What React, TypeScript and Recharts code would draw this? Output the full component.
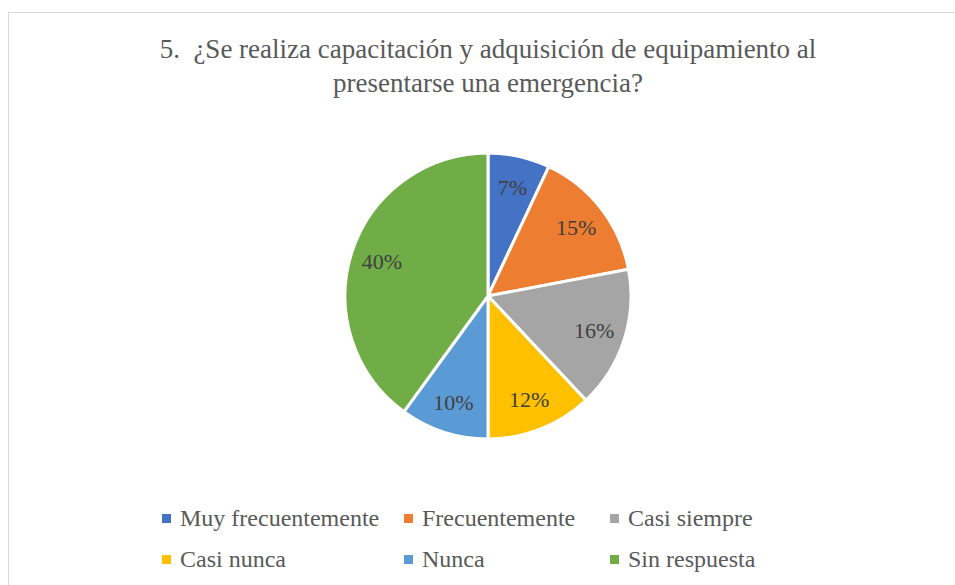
import { PieChart, Pie, Cell, Legend } from 'recharts';

const categories = [
  'Muy frecuentemente',
  'Frecuentemente',
  'Casi siempre',
  'Casi nunca',
  'Nunca',
  'Sin respuesta',
];
const percents = [7, 15, 16, 12, 10, 40];
const colors = ['#4472C4', '#ED7D31', '#A5A5A5', '#FFC000', '#5B9BD5', '#70AD47'];
const titleLines = [
  '5.  ¿Se realiza capacitación y adquisición de equipamiento al',
  'presentarse una emergencia?',
];

const data = categories.map((name, i) => ({ name, value: percents[i] }));

const FONT = '"Liberation Serif", "Times New Roman", serif';
const RAD = Math.PI / 180;

function renderLabel(props: any) {
  const { cx, cy, midAngle, outerRadius, value } = props;
  const r = outerRadius * 0.78;
  const x = cx + r * Math.cos(-midAngle * RAD);
  const y = cy + r * Math.sin(-midAngle * RAD);
  return (
    <text
      x={x}
      y={y}
      fill="#404040"
      fontSize={22}
      fontFamily={FONT}
      textAnchor="middle"
      dominantBaseline="central"
    >
      {`${value}%`}
    </text>
  );
}

// legend item positions (marker left edge, row)
const legendCols = [162, 404, 610];
const legendRows = [518, 559];

function LegendContent() {
  return (
    <div style={{ position: 'relative', width: 955, height: 585 }}>
      {categories.map((name, i) => {
        const left = legendCols[i % 3];
        const top = legendRows[Math.floor(i / 3)];
        return (
          <div
            key={name}
            style={{
              position: 'absolute',
              left,
              top: top - 15,
              height: 30,
              display: 'flex',
              alignItems: 'center',
              whiteSpace: 'nowrap',
              fontFamily: FONT,
              fontSize: 24,
              color: '#595959',
            }}
          >
            <span
              style={{
                display: 'inline-block',
                width: 9,
                height: 9,
                background: colors[i],
                marginRight: 9,
              }}
            />
            {name}
          </div>
        );
      })}
    </div>
  );
}

export default function App() {
  return (
    <div style={{ position: 'absolute', left: 0, top: 0, width: 955, height: 585, overflow: 'hidden', background: '#fff' }}>
      <div
        style={{
          position: 'absolute',
          left: 8,
          top: 12,
          width: 960,
          height: 600,
          borderTop: '1px solid #D9D9D9',
          borderLeft: '1px solid #D9D9D9',
          boxSizing: 'border-box',
        }}
      />
      <div
        style={{
          position: 'absolute',
          left: 0,
          top: 32,
          width: 976,
          textAlign: 'center',
          fontFamily: FONT,
          fontSize: 27,
          lineHeight: '34px',
          color: '#595959',
        }}
      >
        {titleLines.map((l) => (
          <div key={l} style={{ whiteSpace: 'pre' }}>
            {l}
          </div>
        ))}
      </div>
      <div style={{ position: 'absolute', left: 0, top: 0 }}>
        <PieChart width={955} height={585} margin={{ top: 0, right: 0, bottom: 0, left: 0 }}>
          <Pie
            data={data}
            dataKey="value"
            nameKey="name"
            cx={488}
            cy={296}
            outerRadius={143}
            startAngle={90}
            endAngle={-270}
            stroke="#fff"
            strokeWidth={3}
            label={renderLabel}
            labelLine={false}
            isAnimationActive={false}
          >
            {data.map((d, i) => (
              <Cell key={d.name} fill={colors[i]} />
            ))}
          </Pie>
          <Legend
            content={<LegendContent />}
            wrapperStyle={{ position: 'absolute', left: 0, top: 0, width: 955, height: 585 }}
          />
        </PieChart>
      </div>
    </div>
  );
}
